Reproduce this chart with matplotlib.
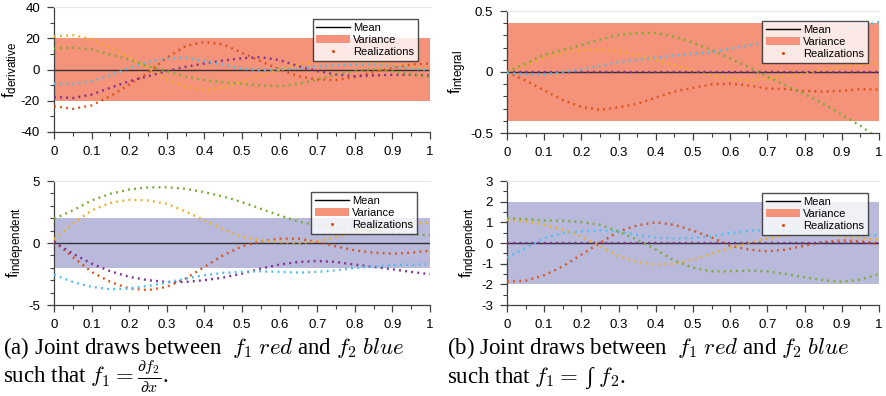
import numpy as np
import matplotlib.pyplot as plt
from matplotlib.patches import Patch
from matplotlib.lines import Line2D
from matplotlib.ticker import MultipleLocator, FormatStrFormatter

plt.rcParams['font.family'] = ['Liberation Sans', 'DejaVu Sans']
plt.rcParams['mathtext.fontset'] = 'cm'
plt.rcParams['axes.unicode_minus'] = False

x = np.linspace(0, 1, 21)

# panel (a) top: f_derivative
der_red    = [-23.5, -25.2, -23, -17, -9.6, -2.1, 7.5, 15, 17.7, 16, 10.7, 5.3, 0, -4.3, -6.4, -6.8, -4.7, -1.7, 1, 3.2, 3.8]
der_yellow = [21, 22, 19.6, 13.9, 7.5, 1, -6.4, -11, -13.2, -11.7, -7.5, -3.8, 0, 3.2, 5.3, 5.8, 5.2, 4.3, 3, 1.7, 0.6]
der_purple = [-17.5, -18.3, -16, -11.7, -7.5, -4.3, -1, 1.7, 3.8, 5.8, 7.2, 7.9, 6, 2.1, -1, -3.2, -4.3, -3.8, -3.4, -3.4, -3.8]
der_green  = [13.5, 14, 12.8, 9.6, 6.4, 2.1, -1, -4.7, -6.8, -8.1, -9.2, -10.2, -10.7, -9.2, -6.4, -3.2, -1, 0, -1, -3.2, -4.7]
der_blue   = [-9, -9.2, -7.5, -3.8, 1, 4.9, 7, 7.5, 5.3, 3.2, 0.4, -0.4, 0, 0.6, 2.1, 2.6, 3.2, 3.2, 2.1, 0.6, -0.4]

# panel (b) top: f_integral
int_red    = [0, -0.07, -0.15, -0.23, -0.286, -0.31, -0.29, -0.26, -0.21, -0.16, -0.13, -0.10, -0.095, -0.11, -0.136, -0.14, -0.155, -0.16, -0.155, -0.14, -0.145]
int_yellow = [0, 0.05, 0.12, 0.155, 0.18, 0.185, 0.17, 0.14, 0.10, 0.055, 0.014, -0.027, -0.055, -0.068, -0.055, -0.035, -0.014, 0.02, 0.04, 0.06, 0.074]
int_purple = [0] * 21
int_green  = [0, 0.07, 0.14, 0.18, 0.22, 0.265, 0.305, 0.32, 0.32, 0.29, 0.24, 0.18, 0.11, 0.04, -0.04, -0.11, -0.18, -0.26, -0.35, -0.44, -0.55]
int_blue   = [-0.008, -0.02, -0.02, 0, 0.02, 0.05, 0.08, 0.10, 0.117, 0.136, 0.15, 0.163, 0.19, 0.218, 0.245, 0.27, 0.3, 0.327, 0.354, 0.38, 0.41]

# panel (a) bottom: f_independent
ind_a_red    = [0.13, -1.13, -2.33, -3.14, -3.67, -3.8, -3.54, -2.87, -1.93, -0.99, -0.27, 0.13, 0.35, 0.35, 0.08, -0.27, -0.59, -0.78, -0.86, -0.78, -0.62]
ind_a_yellow = [0.3, 1.55, 2.63, 3.24, 3.48, 3.43, 3.16, 2.55, 1.82, 1.1, 0.48, 0.21, 0.08, 0, 0.13, 0.48, 0.88, 1.2, 1.42, 1.55, 1.63]
ind_a_purple = [0.08, -0.86, -1.66, -2.28, -2.73, -3.0, -3.14, -3.14, -3.0, -2.79, -2.47, -2.06, -1.74, -1.53, -1.45, -1.53, -1.74, -1.93, -2.12, -2.33, -2.52]
ind_a_green  = [1.96, 2.63, 3.43, 3.97, 4.32, 4.48, 4.5, 4.37, 4.1, 3.75, 3.3, 2.76, 2.22, 1.74, 1.42, 1.2, 1.07, 0.94, 0.8, 0.7, 0.62]
ind_a_blue   = [-2.55, -3.14, -3.54, -3.73, -3.67, -3.46, -3.19, -2.87, -2.6, -2.41, -2.33, -2.28, -2.33, -2.39, -2.33, -2.2, -2.01, -1.88, -1.8, -1.74, -1.72]

# panel (b) bottom: f_independent
ind_b_red    = [-1.88, -1.82, -1.56, -1.13, -0.56, 0, 0.56, 0.85, 1.0, 0.88, 0.6, 0.27, -0.13, -0.32, -0.4, -0.32, -0.13, 0.05, 0.13, 0.08, -0.05]
ind_b_yellow = [1.13, 1.05, 0.88, 0.64, 0.32, -0.16, -0.64, -0.92, -1.05, -1.01, -0.8, -0.53, -0.24, 0, 0.21, 0.37, 0.43, 0.4, 0.32, 0.24, 0.16]
ind_b_purple = [0] * 21
ind_b_green  = [1.2, 1.16, 1.09, 1.08, 1.01, 0.88, 0.56, 0.16, -0.32, -0.85, -1.2, -1.37, -1.37, -1.33, -1.37, -1.5, -1.66, -1.8, -1.88, -1.77, -1.5]
ind_b_blue   = [-0.72, -0.24, 0.24, 0.48, 0.56, 0.61, 0.56, 0.4, 0.27, 0.21, 0.24, 0.32, 0.48, 0.59, 0.64, 0.59, 0.48, 0.43, 0.4, 0.4, 0.37]

xtick_labels = ['0', '0.1', '0.2', '0.3', '0.4', '0.5', '0.6', '0.7', '0.8', '0.9', '1']

colors = ['#D95319', '#EDB120', '#7E2F8E', '#77AC30', '#4DBEEE']
salmon = '#F4927A'
lavender = '#B9B9DC'

panels = [
    # rect (px), series, variance, band colour, ylim, major, minor, label, legend anchor
    ([54, 7, 430, 132], [der_red, der_yellow, der_purple, der_green, der_blue], 20, salmon, (-40, 40), 20, 10, 'derivative', (0.968, 0.904)),
    ([507, 11, 879, 133], [int_red, int_yellow, int_purple, int_green, int_blue], 0.4, salmon, (-0.5, 0.5), 0.5, 0.1, 'integral', (0.970, 0.918)),
    ([54, 181, 430, 305], [ind_a_red, ind_a_yellow, ind_a_purple, ind_a_green, ind_a_blue], 2, lavender, (-5, 5), 5, 1, 'independent', (0.965, 0.911)),
    ([507, 181, 879, 305], [ind_b_red, ind_b_yellow, ind_b_purple, ind_b_green, ind_b_blue], 2, lavender, (-3, 3), 1, 0.5, 'independent', (0.970, 0.903)),
]

W, H = 887, 396
fig = plt.figure(figsize=(W / 100, H / 100), dpi=100)

for rect, series, var, bandc, ylim, major, minor, name, anchor in panels:
    l, t, r, b = rect
    ax = fig.add_axes([l / W, 1 - b / H, (r - l) / W, (b - t) / H])
    ax.fill_between([0, 1], -var, var, color=bandc, lw=0, zorder=1)
    ax.axhline(0, color='#333333', lw=1.0, zorder=2)
    for s, c in zip(series, colors):
        ax.plot(x, s, color=c, ls=(0, (0.8, 1.8)), lw=1.7, zorder=3)
    ax.set_xlim(0, 1)
    ax.set_ylim(*ylim)
    ax.set_xticks(np.linspace(0, 1, 11))
    ax.set_xticklabels(xtick_labels)
    ax.xaxis.set_minor_locator(MultipleLocator(0.05))
    ax.yaxis.set_major_locator(MultipleLocator(major))
    ax.yaxis.set_minor_locator(MultipleLocator(minor))
    ax.yaxis.set_major_formatter(FormatStrFormatter('%g'))
    ax.spines['right'].set_visible(False)
    ax.spines['top'].set_color('#e6e6e6')
    ax.spines['top'].set_linewidth(0.8)
    for sp in ['left', 'bottom']:
        ax.spines[sp].set_color('#404040')
        ax.spines[sp].set_linewidth(0.9)
    ax.tick_params(which='major', direction='out', length=5, width=0.9, color='#404040', labelsize=9.5, pad=5)
    ax.tick_params(which='minor', direction='out', length=3, width=0.8, color='#404040')
    ax.tick_params(top=False, right=False, which='both')
    ax.set_ylabel(r'$\mathregular{f_{%s}}$' % name, fontsize=12, labelpad=1)
    handles = [Line2D([], [], color='black', lw=1),
               Patch(facecolor=salmon, edgecolor='none'),
               Line2D([], [], color=colors[0], ls='none', marker='.', markersize=2.5)]
    leg = ax.legend(handles, ['Mean', 'Variance', 'Realizations'], loc='upper right',
                    bbox_to_anchor=anchor, fontsize=8, frameon=True, fancybox=False,
                    handlelength=3.0, handletextpad=0.3, borderpad=0.35, labelspacing=0.2,
                    borderaxespad=0)
    leg.get_frame().set_edgecolor('#222222')
    leg.get_frame().set_linewidth(1.0)
    leg.set_zorder(5)

cap = dict(fontsize=16.5, family='Liberation Serif', va='baseline', ha='left')
fig.text(3 / W, 1 - 354 / H, r'(a) Joint draws between  $f_1$ $red$ and $f_2$ $blue$', **cap)
fig.text(3 / W, 1 - 383 / H, r'such that $f_1 = \frac{\partial f_2}{\partial x}$.', **cap)
fig.text(447 / W, 1 - 354 / H, r'(b) Joint draws between  $f_1$ $red$ and $f_2$ $blue$', **cap)
fig.text(447 / W, 1 - 383 / H, r'such that $f_1 =$ ∫ $f_2$.', **cap)

fig.savefig('out.png', dpi=100)
